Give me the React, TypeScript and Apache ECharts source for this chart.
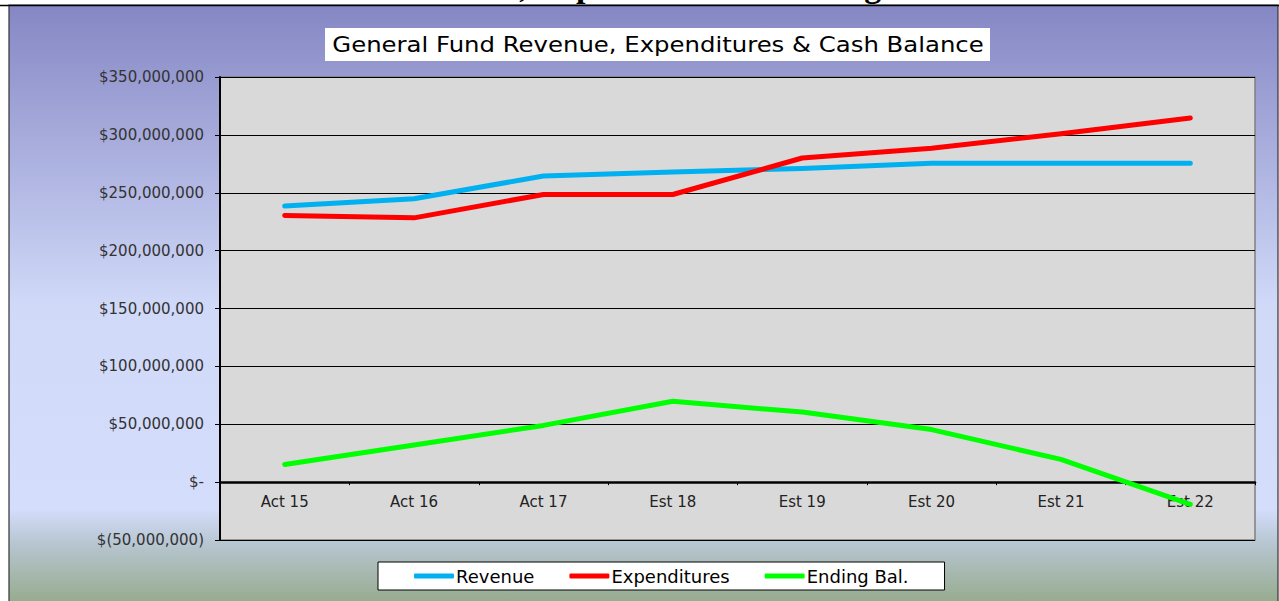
import React, { useEffect, useRef } from "react";
import * as echarts from "echarts";

const categories = ["Act 15", "Act 16", "Act 17", "Est 18", "Est 19", "Est 20", "Est 21", "Est 22"];
const revenue = [238.5e6, 244.8e6, 264.5e6, 268e6, 271e6, 275.5e6, 275.5e6, 275.5e6];
const expenditures = [230.3e6, 228.3e6, 248.5e6, 248.5e6, 280e6, 288.5e6, 301e6, 314.5e6];
const endingBal = [15.3e6, 32e6, 49e6, 69.8e6, 60.5e6, 45.4e6, 19.6e6, -19.2e6];
const seriesNames = ["Revenue", "Expenditures", "Ending Bal."];
const seriesColors = ["#00b0f0", "#ff0000", "#00ff00"];
const chartTitle = "General Fund Revenue, Expenditures & Cash Balance";
const pageHeading = "General Fund Revenue, Expenditures & Ending Balance";

const fmtMoney = (v: number) => {
  if (v === 0) return "$-";
  const s = Math.abs(v).toLocaleString("en-US");
  return v < 0 ? "$(" + s + ")" : "$" + s;
};

export default function App() {
  const ref = useRef<HTMLDivElement>(null);
  useEffect(() => {
    document.body.style.margin = "0";
    const chart = echarts.init(ref.current!, null, { renderer: "svg" });
    const font = "DejaVu Sans";
    const gridTop = 77;
    const gridBottomPx = 540;
    const yMin = -50e6;
    const yMax = 350e6;
    const zeroOffset = -((0 - yMin) / (yMax - yMin)) * (gridBottomPx - gridTop);
    chart.setOption({
      animation: false,
      backgroundColor: "#ffffff",
      graphic: [
        {
          type: "text",
          x: 183,
          y: 2,
          z: 0,
          style: {
            text: pageHeading,
            font: "bold 34px 'Liberation Serif'",
            fill: "#000",
            verticalAlign: "bottom",
          },
        },
        {
          type: "rect",
          z: 1,
          shape: { x: 9, y: 5, width: 1269, height: 600 },
          style: {
            fill: new echarts.graphic.LinearGradient(0, 0, 0, 1, [
              { offset: 0, color: "#8587c4" },
              { offset: 0.5, color: "#d0d9f8" },
              { offset: 0.84, color: "#d4ddfc" },
              { offset: 0.9, color: "#b6c5cf" },
              { offset: 1, color: "#95aa8b" },
            ]),
            stroke: "#333",
            lineWidth: 1.2,
          },
        },
        {
          type: "line",
          z: 2,
          shape: { x1: 0, y1: 5.5, x2: 1279, y2: 5.5 },
          style: { stroke: "#000", lineWidth: 1.5 },
        },
        {
          type: "rect",
          z: 2,
          shape: { x: 325, y: 28, width: 665, height: 33 },
          style: { fill: "#ffffff" },
        },
        {
          type: "text",
          z: 3,
          x: 658,
          y: 45,
          scaleX: 1.16,
          style: {
            text: chartTitle,
            font: "21px 'DejaVu Sans'",
            fill: "#000",
            align: "center",
            verticalAlign: "middle",
          },
        },
      ],
      grid: {
        left: 220,
        right: 24,
        top: gridTop,
        bottom: 601 - gridBottomPx,
        show: true,
        backgroundColor: "#d9d9d9",
        borderColor: "#808080",
        borderWidth: 1.5,
        z: 3,
      },
      legend: {
        left: 378,
        top: 562,
        backgroundColor: "#ffffff",
        borderColor: "#000",
        borderWidth: 1,
        padding: [5, 36, 5, 36],
        itemGap: 35,
        itemWidth: 40,
        itemHeight: 5,
        icon: "roundRect",
        z: 4,
        textStyle: { fontFamily: font, fontSize: 18, color: "#000", padding: [0, 0, 0, -3] },
        data: seriesNames,
      },
      xAxis: {
        type: "category",
        data: categories,
        boundaryGap: true,
        position: "bottom",
        offset: zeroOffset,
        z: 4,
        axisLine: { onZero: false, lineStyle: { color: "#000", width: 2.5 } },
        axisTick: { show: true, length: 3, lineStyle: { color: "#000" } },
        axisLabel: { fontFamily: font, fontSize: 15, color: "#222", margin: 12 },
      },
      yAxis: {
        type: "value",
        min: yMin,
        max: yMax,
        interval: 50e6,
        z: 4,
        axisLine: { show: true, onZero: false, lineStyle: { color: "#000", width: 2 } },
        axisTick: { show: true, length: 5, lineStyle: { color: "#000" } },
        splitLine: { show: true, lineStyle: { color: "#000", width: 1 } },
        axisLabel: { fontFamily: font, fontSize: 15, color: "#333", margin: 16, formatter: fmtMoney },
      },
      series: [revenue, expenditures, endingBal].map((d, i) => ({
        name: seriesNames[i],
        type: "line",
        data: d,
        z: 5 + i,
        showSymbol: false,
        symbol: "none",
        color: seriesColors[i],
        lineStyle: { color: seriesColors[i], width: 5, cap: "round", join: "round" },
      })),
    });
    return () => chart.dispose();
  }, []);
  return <div ref={ref} style={{ width: 1279, height: 601 }} />;
}
